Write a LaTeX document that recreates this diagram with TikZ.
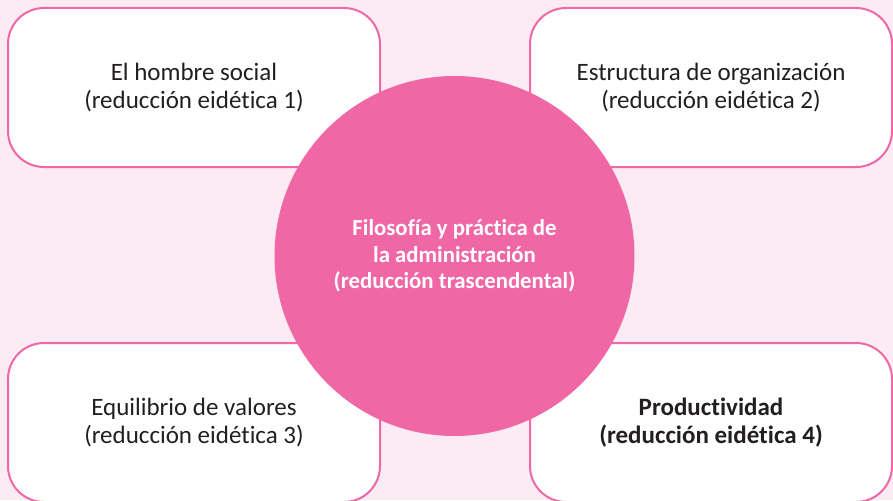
\documentclass[tikz,border=0pt]{standalone}
\usepackage{fontspec}
\setmainfont{Carlito}[Ligatures=NoCommon]
\definecolor{rosa}{HTML}{F067A6}
\definecolor{rosaclaro}{HTML}{FDEBF4}
\definecolor{texto}{HTML}{231F20}
\begin{document}
\begin{tikzpicture}[x=1pt,y=-1pt,
  feld/.style={draw=rosa,line width=2pt,fill=white,rounded corners=36pt,
    minimum height=159pt,align=center,text=texto,font=\fontsize{25}{28}\selectfont},
  kern/.style={circle,fill=rosa,minimum size=360pt,inner sep=0pt,align=center,
    text=white,font=\bfseries\fontsize{22.8}{26.5}\selectfont}]
% Hintergrund
\fill[rosaclaro] (0,0) rectangle (893,500);
\clip (0,0) rectangle (893,500);
\useasboundingbox (0,0) rectangle (893,500);
% vier Felder
\node[feld,minimum width=372pt] (hombre) at (194,87.5) {El hombre social\\(reducción eidética 1)};
\node[feld,minimum width=362pt] (estructura) at (711,87.5) {Estructura de organización\\(reducción eidética 2)};
\node[feld,minimum width=372pt] (equilibrio) at (194,422.5) {Equilibrio de valores\\(reducción eidética 3)};
\node[feld,minimum width=362pt,font=\bfseries\fontsize{25}{28}\selectfont] (productividad) at (711,422.5) {Productividad\\(reducción eidética 4)};
% Kreis in der Mitte
\node[kern] (filosofia) at (454.5,256) {Filosofía y práctica de\\la administración\\(reducción trascendental)};
\end{tikzpicture}
\end{document}
